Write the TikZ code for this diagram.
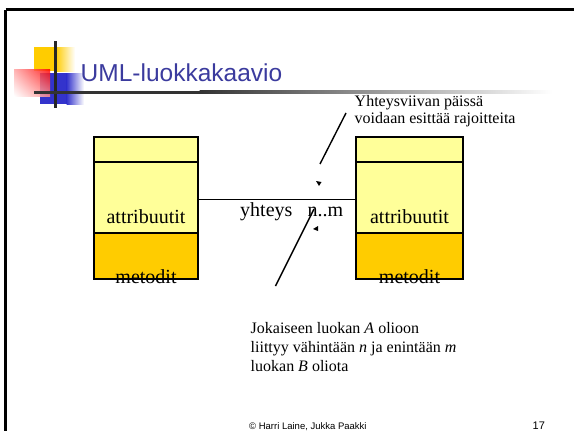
\documentclass[tikz,border=0pt]{standalone}
\usepackage{fontspec}
\setmainfont{Liberation Serif}
\setsansfont{Liberation Sans}
\usetikzlibrary{shadings,positioning}
\definecolor{titleblue}{HTML}{3B3B9E}
\definecolor{paleyellow}{HTML}{FFFF99}
\definecolor{gold}{HTML}{FFCC00}
\definecolor{logoblue}{HTML}{3333CC}
\definecolor{bar}{HTML}{333333}
\begin{document}
\begin{tikzpicture}[x=1pt,y=-1pt,
  comp/.style={draw=black, line width=2pt, inner sep=0pt, outer sep=0pt},
  upper/.style={comp, fill=paleyellow},
  lower/.style={comp, fill=gold},
  lbl/.style={font=\fontsize{20}{24}\selectfont, inner sep=0pt, anchor=base},
  note/.style={font=\fontsize{16}{19}\selectfont, inner sep=0pt, anchor=base west, align=left},
  foot/.style={font=\sffamily\fontsize{9.5}{11}\selectfont, inner sep=0pt, anchor=base west},
  callout/.style={line width=1.4pt},
  conn/.style={line width=1.4pt},
  tip/.style={fill=black}]
\useasboundingbox (0,0) rectangle (574,431);
\fill[white] (0,0) rectangle (574,431);

% slide frame
\draw[line width=2.2pt] (5.5,9.5) -- (574,9.5);
\draw[line width=2.2pt] (5.5,9.5) -- (5.5,431);

% logo squares
\fill[gold] (34,47) rectangle (56,71);
\shade[left color=gold, right color=white] (55.5,47) rectangle (75,71);
\fill[logoblue] (40,73) rectangle (67,104);
\shade[left color=logoblue, right color=white] (66.5,73) rectangle (84,104);
\shade[upper right=red, lower left=white, upper left=red!35, lower right=red!45, opacity=0.85]
  (14,69) rectangle (50,96);
\draw[black!85, line width=3pt] (55.5,41) -- (55.5,108);

% title rule
\fill[bar] (34,90.5) rectangle (200,93.5);
\shade[left color=bar, right color=white] (199.5,90.5) rectangle (552,93.5);

% title
\node[font=\sffamily\fontsize{24.5}{29}\selectfont, text=titleblue, inner sep=0pt, anchor=base west]
  (title) at (80.5,81.5) {UML-luokkakaavio};

% class A
\node[upper, minimum width=104pt, minimum height=25pt] (Aname) at (146,149.5) {};
\node[upper, minimum width=104pt, minimum height=71pt, below=0pt of Aname] (Aattr) {};
\node[lower, minimum width=104pt, minimum height=46pt, below=0pt of Aattr] (Ameth) {};
\node[lbl] (Aatxt) at (146,223.5) {attribuutit};
\node[lbl] (Amtxt) at (146,283) {metodit};

% class B
\node[upper, minimum width=107pt, minimum height=25pt] (Bname) at (409.5,149.5) {};
\node[upper, minimum width=107pt, minimum height=71pt, below=0pt of Bname] (Battr) {};
\node[lower, minimum width=107pt, minimum height=46pt, below=0pt of Battr] (Bmeth) {};
\node[lbl] (Batxt) at (409.5,223.5) {attribuutit};
\node[lbl] (Bmtxt) at (409.5,283) {metodit};

% association
\draw[conn] ([yshift=-2pt]Aattr.east) -- ([yshift=-2pt]Battr.west);
\node[lbl, anchor=base west] (assoc) at (240,216.5) {yhteys};
\node[lbl, anchor=base west] (mult) at (307.5,216) {n..m};

% callout lines and their small tips
\coordinate (c1a) at (346,113);
\coordinate (c1b) at (320,164);
\coordinate (c2a) at (314,209);
\coordinate (c2b) at (275.5,286);
\draw[callout] (c1a) -- (c1b);
\draw[callout] (c2a) -- (c2b);
\fill[tip] (316,181) -- (321.5,182) -- (319,186) -- cycle;
\fill[tip] (313,229) -- (318,226) -- (318,231) -- cycle;

% notes
\node[note] (topnote) at (354.5,106.5) {Yhteysviivan päissä};
\node[note] (topnote2) at (354.5,123.5) {voidaan esittää rajoitteita};
\node[note] (bn1) at (250.5,333) {Jokaiseen luokan \textit{A} olioon};
\node[note] (bn2) at (250.5,352) {liittyy vähintään \textit{n} ja enintään \textit{m}};
\node[note] (bn3) at (250.5,371.5) {luokan \textit{B} oliota};

% footer
\node[foot] (copy) at (249,429.5) {© Harri Laine, Jukka Paakki};
\node[foot, font=\sffamily\fontsize{11}{13}\selectfont] (page) at (532.5,429.5) {17};
\end{tikzpicture}
\end{document}
